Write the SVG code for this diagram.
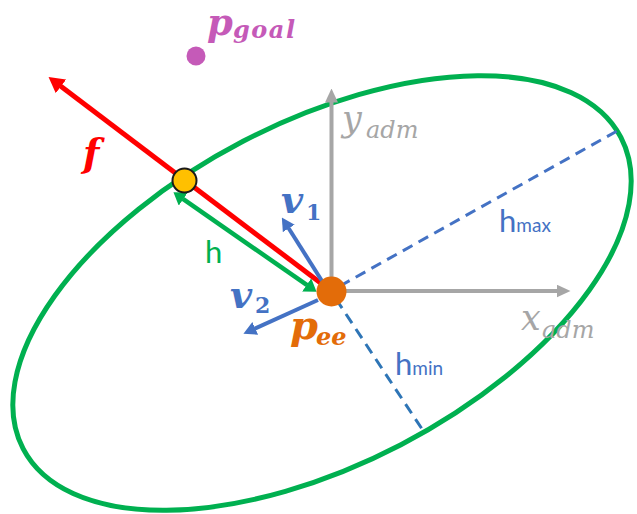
<svg xmlns="http://www.w3.org/2000/svg" width="637" height="514" viewBox="0 0 637 514">
<style>
.math{font-family:"DejaVu Serif","Liberation Serif",serif;font-style:italic;font-weight:bold}
.axl{font-family:"DejaVu Serif","Liberation Serif",serif;font-style:italic;fill:#A6A6A6}
.lbl{font-family:Lato,"Open Sans","Liberation Sans",sans-serif}
.dash{fill:none;stroke-width:3;stroke-dasharray:11,7}
.num{font-style:normal}
</style>
<defs>
<marker id="hRed" viewBox="0 -8.5 15.5 17" refX="0.5" refY="0" markerWidth="15.5" markerHeight="17" markerUnits="userSpaceOnUse" orient="auto"><path d="M0,-8.5 L15.5,0 L0,8.5 z" fill="#FF0000"/></marker>
<marker id="hGreen" viewBox="0 -8 12 16" refX="0.5" refY="0" markerWidth="12" markerHeight="16" markerUnits="userSpaceOnUse" orient="auto-start-reverse"><path d="M0,-8 L12,0 L0,8 z" fill="#00B050"/></marker>
<marker id="hGray" viewBox="0 -6.5 14 13" refX="0.5" refY="0" markerWidth="14" markerHeight="13" markerUnits="userSpaceOnUse" orient="auto"><path d="M0,-6.5 L14,0 L0,6.5 z" fill="#A6A6A6"/></marker>
<marker id="hBlue" viewBox="0 -7 13 14" refX="0.5" refY="0" markerWidth="13" markerHeight="14" markerUnits="userSpaceOnUse" orient="auto"><path d="M0,-7 L13,0 L0,7 z" fill="#4472C4"/></marker>
</defs>
<rect width="637" height="514" fill="#FFFFFF"/>
<g id="ellipse">
<ellipse cx="322" cy="293" rx="337" ry="171" transform="rotate(-27.5 322 293)" fill="none" stroke="#00B050" stroke-width="5"/>
</g>
<g id="connectors">
<line id="hmax-line" class="dash" x1="340" y1="286" x2="617" y2="131" stroke="#4472C4"/>
<line id="hmin-line" class="dash" x1="336" y1="299" x2="424" y2="432" stroke="#2E75B6"/>
<line id="y-axis" x1="331.5" y1="291" x2="331.5" y2="102" stroke="#A6A6A6" stroke-width="4" marker-end="url(#hGray)"/>
<line id="x-axis" x1="331.5" y1="291" x2="557" y2="291" stroke="#A6A6A6" stroke-width="4" marker-end="url(#hGray)"/>
<line id="f-arrow" x1="322" y1="284" x2="60.5" y2="86.1" stroke="#FF0000" stroke-width="5" marker-end="url(#hRed)"/>
<line id="h-arrow" x1="182.9" y1="198.8" x2="307.1" y2="285.2" stroke="#00B050" stroke-width="4.5" marker-start="url(#hGreen)" marker-end="url(#hGreen)"/>
<line id="v1-arrow" x1="322" y1="281" x2="288.5" y2="228" stroke="#4472C4" stroke-width="4" marker-end="url(#hBlue)"/>
<line id="v2-arrow" x1="318" y1="300" x2="254.8" y2="328.6" stroke="#4472C4" stroke-width="4" marker-end="url(#hBlue)"/>
</g>
<g id="p-goal">
<circle cx="196" cy="56" r="9.5" fill="#C55AB8"/>
<text class="math" x="207" y="35" font-size="37" fill="#C55AB8">p<tspan x="233" font-size="24" dy="3" textLength="62" lengthAdjust="spacing">goal</tspan></text>
</g>
<g id="f-label">
<text class="math" x="83" y="166" font-size="38" fill="#FF0000">f</text>
</g>
<g id="contact">
<circle cx="184.5" cy="180.5" r="12" fill="#FFC000" stroke="#1A1A1A" stroke-width="2"/>
</g>
<g id="h-label">
<text class="lbl" x="205" y="263" font-size="31" fill="#00B050">h</text>
</g>
<g id="v1-label">
<text class="math" x="281" y="213" font-size="38" fill="#4472C4">v<tspan class="num" x="306" font-size="22" dy="7">1</tspan></text>
</g>
<g id="v2-label">
<text class="math" x="230" y="308" font-size="38" fill="#4472C4">v<tspan class="num" x="255" font-size="22" dy="5">2</tspan></text>
</g>
<g id="y-adm">
<text class="axl" x="342" y="131" font-size="35">y<tspan x="366" font-size="24" dy="7">adm</tspan></text>
</g>
<g id="x-adm">
<text class="axl" x="521" y="330" font-size="35">x<tspan x="542" font-size="24" dy="8">adm</tspan></text>
</g>
<g id="hmax-label">
<text class="lbl" x="499" y="232" font-size="31" fill="#4472C4">h<tspan font-size="19">max</tspan></text>
</g>
<g id="hmin-label">
<text class="lbl" x="395" y="375" font-size="31" fill="#4472C4">h<tspan font-size="19">min</tspan></text>
</g>
<g id="p-ee">
<circle cx="331.5" cy="291.5" r="15" fill="#E36C09"/>
<text class="math" x="290" y="339" font-size="40" fill="#E36C09">p<tspan x="316" font-size="24" dy="6">ee</tspan></text>
</g>
</svg>
